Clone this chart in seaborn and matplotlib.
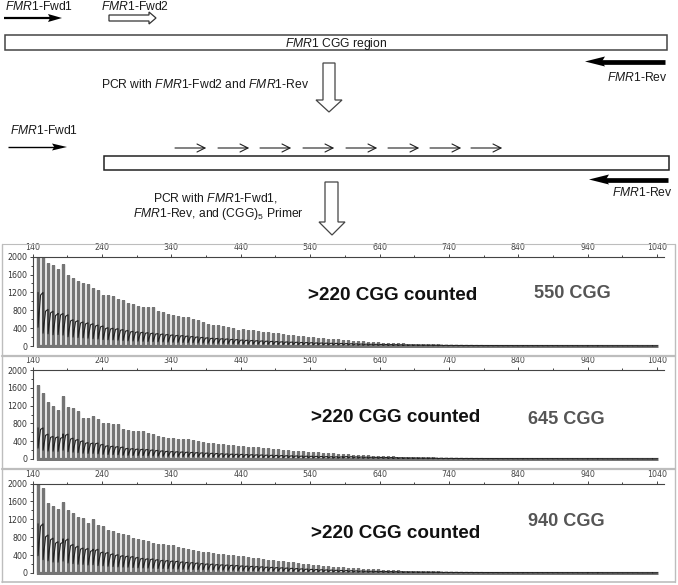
import numpy as np
import pandas as pd
import seaborn as sns
import matplotlib
matplotlib.use("Agg")
import matplotlib.pyplot as plt
from matplotlib.patches import Polygon, Rectangle

# ---------- data ----------
x_major = [140, 240, 340, 440, 540, 640, 740, 840, 940, 1040]
x_minor = [190, 290, 390, 490, 590, 690, 790, 890, 990]
y_major = [0, 400, 800, 1200, 1600, 2000]
y_minor = [200, 600, 1000, 1400, 1800]
first_peak = 148
peak_step = 7.2

tail_a = [14, 14, 13, 13, 12, 12, 12, 11, 11, 11, 10, 10, 10, 9, 9, 9, 9, 8, 8, 8, 8, 7, 7, 7, 7, 6, 6]

tops_550 = [2000, 2000, 1850, 1810, 1720, 1830, 1590, 1530, 1450, 1400, 1380, 1290, 1260, 1150,
            1140, 1130, 1060, 1040, 960, 930, 890, 880, 870, 870, 790, 770, 720, 690,
            680, 650, 640, 600, 580, 530, 500, 480, 470, 450, 420, 400, 360,
            380, 360, 350, 330, 320, 310, 295, 280, 270, 255, 245, 230, 220, 210,
            195, 185, 175, 165, 155, 150, 135, 130, 120, 110, 105, 95, 90, 80,
            75, 72, 68, 62, 58, 55, 50, 48, 45, 42, 38, 36, 32, 30,
            28, 27, 25, 24, 23, 22, 20, 19, 18, 18, 17, 16, 15, 15] + tail_a
tops_645 = [1660, 1480, 1280, 1200, 1110, 1410, 1170, 1150, 1070, 930, 930, 960, 900, 820,
            810, 790, 780, 670, 650, 630, 630, 630, 590, 560, 520, 500, 480, 470,
            460, 450, 440, 420, 400, 390, 370, 360, 340, 330, 320, 310, 300,
            290, 280, 270, 260, 250, 240, 230, 220, 210, 200, 190, 180, 175, 165,
            155, 150, 140, 135, 125, 120, 110, 105, 100, 95, 88, 82, 78, 72,
            68, 64, 60, 56, 52, 50, 46, 43, 40, 38, 36, 33, 30, 28,
            27, 25, 24, 23, 22, 20, 19, 18, 18, 17, 16, 15, 15, 14] + tail_a
tops_940 = [2000, 1900, 1560, 1500, 1420, 1580, 1400, 1330, 1250, 1220, 1120, 1210, 1070, 1060,
            970, 930, 900, 870, 860, 790, 750, 740, 720, 680, 650, 640, 630, 620,
            590, 560, 540, 520, 500, 480, 460, 440, 430, 420, 410, 400, 380,
            370, 350, 340, 330, 310, 300, 290, 275, 260, 250, 235, 220, 205, 190,
            180, 170, 160, 150, 145, 135, 125, 120, 110, 105, 100, 90, 85, 80,
            75, 70, 65, 60, 55, 52, 48, 45, 42, 40, 38, 35, 32, 30,
            28, 26, 25, 24, 22, 21, 20, 19, 18, 17, 16, 16, 15, 14] + tail_a

mid_tail = [8, 8, 8, 7, 7, 7, 7, 6, 6, 6, 6, 6, 5, 5, 5, 5, 5, 5, 5, 4, 4, 4, 4, 4, 4, 4, 4]
mid_common = [60, 58, 55, 52, 48, 45, 42, 40, 38, 36, 34, 32, 30, 28,
              26, 25, 24, 22, 21, 20, 18, 17, 16, 15, 14, 13, 12, 12,
              11, 11, 10, 10, 10, 9, 9, 9, 8, 8, 8, 8, 8, 8]
mid_550 = [1200, 820, 780, 720, 730, 700, 590, 570, 540, 520, 500, 470, 450, 410,
           400, 390, 370, 350, 330, 320, 310, 300, 290, 280, 270, 260, 250, 240,
           235, 225, 215, 205, 195, 185, 175, 170, 165, 160, 150, 145, 135,
           130, 125, 120, 115, 110, 105, 100, 95, 92, 88, 85, 80, 78, 75,
           70, 68, 65, 62] + [60, 58] + mid_common[2:] + mid_tail
mid_645 = [700, 560, 510, 500, 490, 560, 470, 440, 410, 370, 360, 360, 330, 300,
           290, 280, 270, 240, 235, 225, 220, 215, 205, 195, 185, 175, 170, 165,
           160, 155, 150, 145, 140, 135, 130, 125, 120, 115, 110, 108, 105,
           100, 98, 95, 92, 88, 85, 82, 78, 75, 72, 70, 66, 64, 62,
           60, 58, 55, 52] + [50, 48] + mid_common[2:] + mid_tail
mid_940 = [1100, 850, 780, 700, 690, 760, 640, 600, 560, 550, 510, 530, 470, 460,
           430, 410, 390, 380, 370, 350, 330, 320, 315, 300, 285, 280, 270, 265,
           250, 240, 235, 225, 215, 205, 200, 190, 185, 180, 175, 170, 160,
           155, 150, 145, 140, 132, 128, 122, 118, 112, 106, 100, 94, 88, 82,
           78, 74, 70, 66] + [62, 58] + mid_common[2:] + mid_tail

panel_tops = [tops_550, tops_645, tops_940]
panel_mids = [mid_550, mid_645, mid_940]
panel_y2000 = [256.7, 370, 483.5]
panel_y0 = [346, 459, 573]
count_label = ">220 CGG counted"
count_xy = [(308, 296), (311, 418), (311, 534)]
cgg_labels = ["550 CGG", "645 CGG", "940 CGG"]
cgg_xy = [(534, 294), (528, 420), (528, 522)]
primer_starts = [175, 218, 260, 303, 346, 388, 430, 471]

# ---------- style ----------
sns.set_theme(style="white")
plt.rcParams["font.family"] = ["Liberation Sans", "DejaVu Sans"]
plt.rcParams["mathtext.fontset"] = "custom"
plt.rcParams["mathtext.rm"] = "Liberation Sans"
plt.rcParams["mathtext.it"] = "Liberation Sans:italic"
plt.rcParams["mathtext.bf"] = "Liberation Sans:bold"

W, H = 678, 585
fig = plt.figure(figsize=(W / 100, H / 100), dpi=100, facecolor="white")
PX_PER_UNIT = 0.694
LEFT, RIGHT = 32.5, 664
BELOW = 40


def draw_panel(tops, mids, y2000, y0):
    scale = (y0 - y2000) / 2000
    bottom_px = y0 + BELOW * scale
    ax = fig.add_axes([LEFT / W, 1 - bottom_px / H, (RIGHT - LEFT) / W, (bottom_px - y2000) / H])
    xs = first_peak + peak_step * np.arange(len(tops))
    tx, ty, dx, dy = [], [], [], []
    for x, t, m in zip(xs, tops, mids):
        tx += [x, x, x, x + peak_step]
        ty += [0, t, 0, 0]
        dx += [x, x, x + peak_step * 0.5, x + peak_step]
        dy += [m, m * 0.35, m * 0.95, m]
    sns.lineplot(data=pd.DataFrame({"x": tx, "y": ty}), x="x", y="y", sort=False, estimator=None,
                 color="#757575", linewidth=2.3, ax=ax, solid_capstyle="butt", solid_joinstyle="miter")
    sns.lineplot(data=pd.DataFrame({"x": dx, "y": dy}), x="x", y="y", sort=False, estimator=None,
                 color="#222222", linewidth=0.8, ax=ax)
    ax.set_xlim(140, 140 + (RIGHT - LEFT) / PX_PER_UNIT)
    ax.set_ylim(-BELOW, 2000)
    ax.set_xlabel("")
    ax.set_ylabel("")
    ax.patch.set_alpha(0)
    for s in ("right", "bottom"):
        ax.spines[s].set_visible(False)
    for s in ("top", "left"):
        ax.spines[s].set_color("#444444")
        ax.spines[s].set_linewidth(0.8)
    ax.spines["left"].set_bounds(0, 2000)
    ax.xaxis.tick_top()
    ax.set_xticks(x_major)
    ax.set_xticks(x_minor, minor=True)
    ax.set_yticks(y_major)
    ax.set_yticks(y_minor, minor=True)
    ax.tick_params(axis="x", which="major", length=2, width=0.7, pad=1.5, labelsize=5.7,
                   color="#444444", labelcolor="#444444", direction="out", bottom=False)
    ax.tick_params(axis="x", which="minor", length=1.5, width=0.7, color="#444444", direction="out", bottom=False)
    ax.tick_params(axis="y", which="major", length=2.5, width=0.7, pad=1.2, labelsize=5.7,
                   color="#444444", labelcolor="#333333", left=True)
    ax.tick_params(axis="y", which="minor", length=1.5, width=0.7, color="#444444", left=True)
    for lab in ax.get_xticklabels() + ax.get_yticklabels():
        lab.set_fontfamily("DejaVu Sans")
    return ax


for tops, mids, y2000, y0 in zip(panel_tops, panel_mids, panel_y2000, panel_y0):
    draw_panel(tops, mids, y2000, y0)

# ---------- overlay in image pixels ----------
ov = fig.add_axes([0, 0, 1, 1], zorder=5)
ov.set_xlim(0, W)
ov.set_ylim(H, 0)
ov.axis("off")
ov.patch.set_alpha(0)

FMR = r"$\mathit{FMR}$"


def label(x, y, s, ha="left", size=8.7, **kw):
    ov.text(x, y, s, ha=ha, va="center", fontsize=size, color="#1a1a1a", **kw)


def solid_arrow(x0, x1, y, head, half, lw):
    sgn = np.sign(x1 - x0)
    ov.plot([x0, x1 - sgn * head * 0.7], [y, y], color="black", lw=lw, solid_capstyle="butt")
    ov.add_patch(Polygon([(x1, y), (x1 - sgn * head, y - half), (x1 - sgn * head * 0.85, y), (x1 - sgn * head, y + half)],
                         closed=True, fc="black", ec="none"))


def open_right(x0, x1, y, head_x, shaft, half):
    pts = [(x0, y - shaft), (head_x, y - shaft), (head_x, y - half), (x1, y), (head_x, y + half), (head_x, y + shaft), (x0, y + shaft)]
    ov.add_patch(Polygon(pts, closed=True, fc="white", ec="#333333", lw=0.9))


def open_down(xl, xr, y0, y1, hl, hr, tip):
    c = (hl + hr) / 2
    pts = [(xl, y0), (xr, y0), (xr, y1), (hr, y1), (c, tip), (hl, y1), (xl, y1)]
    ov.add_patch(Polygon(pts, closed=True, fc="white", ec="#444444", lw=0.9))


# panel frames
for y, lw in [(243.5, 0.8), (355.5, 1.6), (468.5, 1.6), (582, 1.2)]:
    ov.plot([2, 675], [y, y], color="#bdbdbd", lw=lw)
for x in (2, 675):
    ov.plot([x, x], [243.5, 582], color="#bdbdbd", lw=1.0)

# top schematic
label(5, 6.5, FMR + "1-Fwd1")
label(101, 6, FMR + "1-Fwd2")
solid_arrow(4, 62, 18, 14, 4, 1.6)
open_right(109, 156, 18, 149, 3, 6)
ov.add_patch(Rectangle((5, 34.5), 662, 15.5, fc="white", ec="#444444", lw=1.1))
label(336, 43.5, FMR + "1 CGG region", ha="center")
solid_arrow(665, 585, 61.5, 20, 5, 3.4)
label(668, 77.5, FMR + "1-Rev", ha="right")
open_down(323, 335, 63, 100, 316, 342, 112)
label(101, 84, "PCR with " + FMR + "1-Fwd2 and " + FMR + "1-Rev")

# middle schematic
label(10, 131, FMR + "1-Fwd1")
solid_arrow(8, 67, 147, 15, 3.5, 1.0)
ov.add_patch(Rectangle((104, 156), 565, 13.5, fc="white", ec="#222222", lw=1.1))
for s in primer_starts:
    ov.plot([s, s + 30, s + 22], [148, 148, 144], color="#222222", lw=0.8)
    ov.plot([s + 30, s + 22], [148, 152], color="#222222", lw=0.8)
solid_arrow(668, 589, 179.5, 20, 5, 3.4)
label(673, 192.5, FMR + "1-Rev", ha="right")
label(215, 198, "PCR with " + FMR + "1-Fwd1,", ha="center")
label(133, 214, FMR + "1-Rev, and (CGG)$_{5}$ Primer")
open_down(325, 338, 182, 222, 319, 345, 235)

# annotations on the panels
for (x, y) in count_xy:
    ov.text(x, y, count_label, ha="left", va="center", fontsize=13.6, fontweight="bold", color="#111111")
for s, (x, y) in zip(cgg_labels, cgg_xy):
    ov.text(x, y, s, ha="left", va="center", fontsize=13.1, fontweight="bold", color="#555555")

fig.savefig("out.png", dpi=100, facecolor="white")
